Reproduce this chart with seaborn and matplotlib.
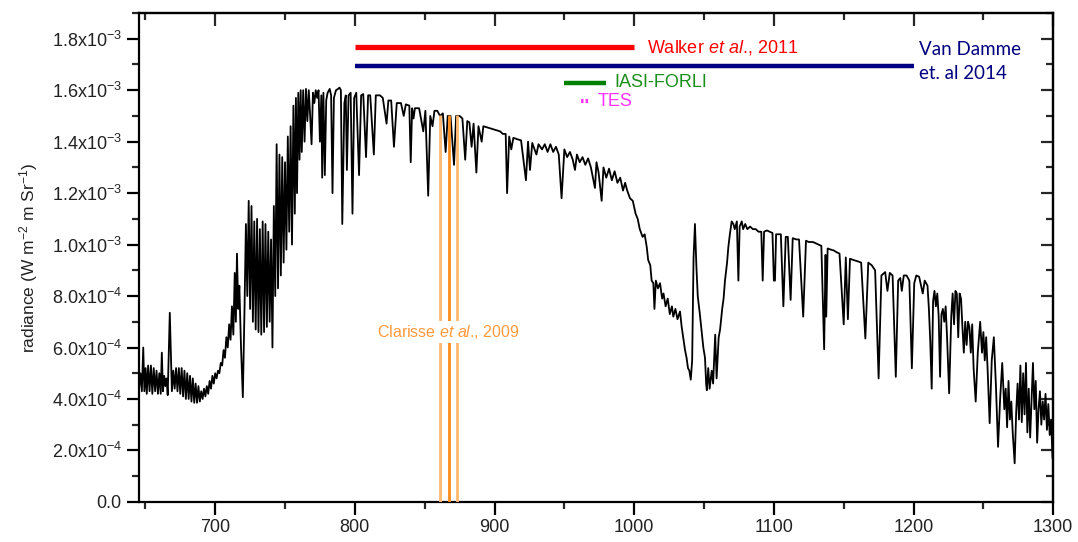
import matplotlib
matplotlib.use("Agg")
import numpy as np
import pandas as pd
import seaborn as sns
import matplotlib.pyplot as plt
from matplotlib.ticker import MultipleLocator

# spectrum: wavenumber (cm-1) and radiance (x1e-4 W m-2 m Sr-1)
wavenumber = [
    645.5, 646.5, 647.5, 648.5, 649.3, 650.2, 651, 652, 653, 654, 655, 656, 657, 658, 659, 660,
    661, 661.8, 662.6, 663.5, 664.3, 665.2, 666, 667.5, 669, 670, 671, 672, 673, 674, 675, 676,
    677, 678, 679, 680, 681, 682, 683, 684, 685, 686, 687, 688, 689, 690, 691, 692, 693, 694,
    695, 696, 697, 698, 699, 700, 701, 702, 703, 704, 705, 706, 707, 708, 709, 710, 711, 712,
    713, 714, 714.8, 715.6, 716.5, 717.3, 718.5, 719.8, 721, 722, 723, 724, 725, 726, 727, 728,
    729, 730, 731, 732, 733, 734, 735, 736, 737, 738, 739, 740, 741, 742, 743, 744, 745, 746,
    747, 748, 749, 750, 751, 752, 753, 754, 755, 756, 757, 757.8, 758.6, 759.5, 760.4, 761.2,
    762, 763, 764, 765, 766, 767, 768, 769, 770, 771, 772, 773, 774, 775, 776, 776.6, 777.5,
    778.5, 779.5, 780.5, 782, 783, 784, 785, 786.5, 788, 789, 790, 791, 792.5, 793.5, 794.3,
    795.5, 797, 798.3, 799.5, 801, 803, 804.5, 806, 808, 809.5, 811, 813.6, 815, 818, 820,
    822.7, 824, 826, 828, 830, 833, 835, 836.5, 839, 840, 841, 842, 843, 846, 849, 850.5,
    852.5, 854, 855.6, 857, 859, 861, 863, 865, 866.5, 868.5, 871, 872.5, 875, 877, 879,
    880.5, 882, 883.6, 885, 887, 888.5, 890.8, 892, 895, 898, 901, 904, 906, 908, 909, 910.5,
    912, 913.5, 916, 919, 922.5, 924, 925.4, 927, 930, 931.5, 934, 936, 938, 940, 942, 944,
    946, 948, 950, 952, 954, 956, 957.6, 959, 961, 963, 965, 967, 969, 971.9, 973, 974.5,
    976.7, 978, 980, 982, 984, 986, 988, 990, 992, 993.5, 995, 997, 999, 1001, 1002.5, 1004,
    1006, 1007.5, 1009, 1010, 1011.5, 1012.5, 1013.7, 1014.5, 1015.5, 1017, 1018.5, 1020,
    1021, 1022.5, 1024, 1025.5, 1027, 1028, 1029.5, 1031, 1032.8, 1034, 1035.3, 1036.4,
    1037.5, 1038.5, 1039.5, 1040.5, 1041.5, 1042.5, 1043.5, 1044.5, 1045.5, 1047, 1048.5,
    1049.5, 1050.7, 1051.5, 1052, 1053, 1054, 1055.5, 1056.5, 1058, 1059, 1060.5, 1061.5,
    1063, 1064, 1065, 1066.5, 1067.4, 1068.5, 1069.8, 1071, 1072, 1073.5, 1074.6, 1075.5,
    1077, 1078, 1079.5, 1081, 1083, 1085, 1087, 1089, 1091, 1092, 1093, 1095, 1097, 1099,
    1100, 1100.8, 1101.6, 1103, 1105, 1106.8, 1108.5, 1110, 1112, 1113.5, 1116, 1118, 1121,
    1123, 1125, 1128, 1130, 1132, 1134, 1136, 1137, 1137.5, 1138.5, 1141, 1143, 1145, 1147,
    1150, 1151.5, 1153, 1154.5, 1157, 1160, 1162.5, 1165.5, 1167.6, 1170, 1172.5, 1175, 1177,
    1179.7, 1181.3, 1183, 1185, 1187.3, 1189, 1190.5, 1191.6, 1193, 1195, 1197, 1198.8,
    1200.5, 1202, 1204, 1206.6, 1208, 1210, 1211, 1212, 1213, 1214, 1215, 1216, 1217, 1218,
    1219, 1220, 1221, 1222, 1223, 1224, 1225.5, 1227, 1228, 1229, 1230, 1231, 1232, 1233,
    1234, 1235, 1236, 1237, 1238, 1239, 1240, 1241, 1242, 1243, 1244.5, 1246, 1247.7, 1249,
    1250, 1251, 1252, 1253, 1254.5, 1256, 1257.5, 1259, 1260.5, 1262, 1263.5, 1265, 1266,
    1267, 1268, 1269, 1270, 1271, 1272.4, 1273.5, 1274.5, 1275.5, 1276.5, 1277.5, 1278.5,
    1279.5, 1280.5, 1281.5, 1282.5, 1283.5, 1284.5, 1285.5, 1286.5, 1287.5, 1288.5, 1289.5,
    1290.5, 1291.5, 1292.5, 1293.5, 1294.5, 1295.5, 1296.5, 1297.5, 1298.5, 1299.5,
]
radiance_e4 = [
    4.4, 5.0, 4.3, 6.0, 4.3, 5.2, 4.2, 5.3, 4.3, 5.3, 4.2, 5.2, 4.3, 5.1, 4.2, 5.0,
    4.2, 5.8, 4.3, 4.9, 4.5, 4.8, 4.15, 7.35, 4.3, 5.1, 4.4, 5.2, 4.3, 5.2, 4.2, 5.2,
    4.1, 5.1, 4.0, 5.0, 4.0, 4.9, 3.9, 4.8, 3.85, 4.6, 3.85, 4.5, 3.9, 4.3, 4.0, 4.4, 4.1, 4.5,
    4.2, 4.7, 4.4, 4.9, 4.6, 5.0, 4.8, 5.1, 5.0, 5.4, 5.3, 5.9, 5.6, 6.4, 6.0, 6.9, 6.3, 7.6,
    6.5, 8.9, 7.0, 9.65, 7.5, 8.4, 6.0, 4.07, 7.5, 10.8, 8.0, 11.7, 7.5, 11.5, 7.0, 10.9,
    6.7, 11.0, 6.6, 10.6, 6.5, 10.9, 6.6, 10.8, 6.8, 10.5, 7.0, 10.2, 6.0, 11.5, 8.0, 13.9, 8.3, 13.5,
    8.8, 13.4, 9.3, 13.2, 9.8, 14.2, 10.5, 14.6, 10.0, 15.4, 11.2, 15.7, 12.0, 15.9, 13.3, 16.0,
    13.6, 16.0, 14.0, 16.05, 14.8, 16.0, 15.0, 13.9, 15.9, 15.5, 16.0, 15.7, 16.0, 14.0, 15.8, 12.6, 15.9,
    12.7, 15.6, 15.9, 16.05, 15.8, 12.0, 15.7, 16.0, 16.05, 16.1, 16.0, 10.8, 15.5, 15.8, 12.9,
    15.8, 15.9, 11.2, 15.7, 15.9, 12.7, 15.8, 15.85, 13.4, 15.8, 15.8, 13.5, 15.8, 15.8, 15.7,
    14.7, 15.6, 15.6, 13.8, 15.5, 15.5, 15.0, 15.45, 15.4, 13.2, 15.3, 14.9, 15.3, 15.3, 14.4, 15.2,
    11.9, 15.0, 14.6, 15.2, 15.2, 15.0, 15.1, 13.6, 15.0, 15.0, 13.1, 15.0, 15.0, 14.9, 13.3,
    14.8, 14.75, 13.8, 14.7, 12.8, 14.6, 14.0, 14.6, 14.55, 14.5, 14.45, 14.4, 14.3, 14.3, 12.0, 14.2,
    13.7, 14.15, 14.1, 14.05, 12.5, 14.0, 12.9, 13.95, 13.5, 13.9, 13.7, 13.9, 13.6, 13.9, 13.6, 13.8,
    13.5, 11.8, 13.7, 13.4, 13.6, 13.3, 12.9, 13.5, 13.2, 13.4, 13.1, 13.35, 13.0, 12.2, 13.2, 12.8,
    11.7, 13.0, 12.6, 12.95, 12.5, 12.85, 12.4, 12.6, 12.1, 12.4, 12.1, 11.8, 11.7, 11.2, 11.0, 10.6,
    10.3, 10.4, 9.9, 9.4, 9.2, 8.6, 8.5, 7.5, 8.6, 8.3, 8.5, 7.9,
    8.1, 7.6, 7.9, 7.3, 7.6, 7.2, 7.5, 7.1, 7.4, 6.8, 6.3, 5.9,
    5.6, 5.2, 5.1, 4.75, 5.5, 9.5, 10.8, 9.2, 8.0, 7.3, 6.5,
    6.0, 5.6, 4.6, 4.34, 5.2, 4.4, 5.1, 4.6, 6.5, 4.8, 6.4, 6.7,
    7.5, 7.9, 8.6, 9.3, 9.9, 10.4, 10.9, 10.8, 10.6, 10.9, 8.6, 10.7,
    10.9, 10.6, 10.8, 10.6, 10.7, 10.6, 10.6, 10.5, 10.5, 8.6, 10.5, 10.55, 10.5, 10.45,
    8.6, 8.6, 10.4, 10.4, 10.4, 7.6, 10.3, 10.3, 7.85, 10.25, 10.2, 10.2, 7.2,
    10.15, 10.1, 10.1, 10.05, 10.0, 9.95, 5.93, 9.6, 7.2, 9.85, 9.8, 9.77, 9.7, 9.65,
    6.9, 9.5, 7.1, 9.45, 9.4, 9.35, 9.3, 6.35, 9.3, 9.2, 9.0, 4.8, 8.8,
    8.93, 8.2, 8.9, 8.8, 4.86, 8.6, 8.7, 8.2, 8.8, 8.8, 8.6, 5.19,
    8.5, 8.8, 8.75, 8.1, 8.6, 8.4, 7.5, 6.2, 4.4, 7.8, 8.2, 7.6, 8.1, 7.2,
    4.86, 7.3, 7.5, 7.0, 7.6, 6.4, 4.22, 7.2, 8.1, 6.9, 8.2, 8.1, 6.4, 8.1,
    7.9, 6.8, 5.8, 7.0, 6.1, 7.0, 6.8, 5.8, 6.9, 5.2, 3.9, 5.8, 7.0, 5.8,
    6.6, 5.5, 6.4, 5.2, 3.06, 5.5, 6.4, 4.5, 2.14, 4.0, 5.4, 3.6, 4.4,
    2.9, 4.7, 3.2, 3.9, 2.7, 1.5, 3.5, 4.6, 3.2, 5.3, 3.1, 5.0,
    3.4, 5.4, 2.7, 4.4, 2.5, 4.0, 5.4, 3.6, 4.7, 2.3, 3.6,
    4.3, 3.0, 3.9, 3.2, 4.2, 2.8, 3.8, 2.6, 3.2, 1.7,
]

# retrieval windows (cm-1)
walker_range = [800, 1000]
vandamme_range = [800, 1200]
iasi_range = [950, 980]
tes_range = [962, 967.5]
clarisse_lines = [861, 867.5, 873]

ytick_values = [0, 2e-4, 4e-4, 6e-4, 8e-4, 1e-3, 1.2e-3, 1.4e-3, 1.6e-3, 1.8e-3]
ytick_labels = ["0.0", "2.0x10$^{-4}$", "4.0x10$^{-4}$", "6.0x10$^{-4}$", "8.0x10$^{-4}$",
                "1.0x10$^{-3}$", "1.2x10$^{-3}$", "1.4x10$^{-3}$", "1.6x10$^{-3}$", "1.8x10$^{-3}$"]

df = pd.DataFrame({"wavenumber": wavenumber, "radiance": np.array(radiance_e4) * 1e-4})

sns.set_theme(style="ticks")
plt.rcParams["font.family"] = ["Liberation Sans", "DejaVu Sans"]
plt.rcParams["mathtext.fontset"] = "custom"
plt.rcParams["mathtext.rm"] = "Liberation Sans"
plt.rcParams["mathtext.it"] = "Liberation Sans:italic"

fig = plt.figure(figsize=(10.78, 5.42), dpi=100)
ax = fig.add_axes([0.129, 0.074, 0.848, 0.902])

sns.lineplot(data=df, x="wavenumber", y="radiance", estimator=None, sort=False,
             color="black", linewidth=1.3, ax=ax)

# orange vertical lines (Clarisse et al.)
ax.vlines(clarisse_lines, 0, 1.505e-3, colors=["#ffb870", "#ff8a1c", "#ffb870"], linewidth=2.0, zorder=3)
ax.text(867, 6.6e-4, r"Clarisse $\mathit{et\ al}$., 2009", color="#ff9a3c",
        fontsize=11.5, ha="center", va="center", zorder=4,
        bbox=dict(facecolor="white", edgecolor="none", pad=1.5))

# horizontal bars
ax.plot(walker_range, [1.767e-3] * 2, color="#ff0000", linewidth=3.8, solid_capstyle="butt")
ax.text(1009, 1.767e-3, r"Walker $\mathit{et\ al}$., 2011", color="#ff0000",
        fontsize=13, va="center")

ax.plot(vandamme_range, [1.694e-3] * 2, color="#000080", linewidth=3.2, solid_capstyle="butt")
ax.text(1204, 1.71e-3, "Van Damme\net. al 2014", color="#000080", fontsize=13.5,
        family=["Lato", "DejaVu Sans"], va="center", linespacing=1.5)

ax.plot(iasi_range, [1.628e-3] * 2, color="#008000", linewidth=3.2, solid_capstyle="butt")
ax.text(985.5, 1.628e-3, "IASI-FORLI", color="#1a8f1a", fontsize=13, va="center")

ax.plot(tes_range, [1.558e-3] * 2, color="#ff33ff", linewidth=3.0, linestyle=(0, (0.6, 0.5)),
        dash_capstyle="butt")
ax.text(973.5, 1.558e-3, "TES", color="#ff33ff", fontsize=13, va="center")

ax.set_xlim(645.5, 1300)
ax.set_ylim(0, 1.9e-3)
ax.xaxis.set_major_locator(MultipleLocator(100))
ax.xaxis.set_minor_locator(MultipleLocator(50))
ax.set_yticks(ytick_values)
ax.set_yticklabels(ytick_labels)
ax.yaxis.set_minor_locator(MultipleLocator(1e-4))

ax.tick_params(axis="both", which="major", labelsize=13, length=9, width=1.6, color="black",
               direction="out", labelcolor="#222222", top=False, right=False)
ax.tick_params(axis="both", which="minor", length=5, width=1.6, direction="out",
               top=False, right=False)

for side in ["top", "right", "bottom", "left"]:
    ax.spines[side].set_linewidth(1.6)
    ax.spines[side].set_color("black")

ax.set_xlabel("")
ax.set_ylabel("radiance (W m$^{-2}$ m Sr$^{-1}$)", fontsize=12.5, color="#222222", labelpad=8)

# mirrored ticks on top and right, pointing inward
top = ax.secondary_xaxis("top")
top.xaxis.set_major_locator(MultipleLocator(100))
top.xaxis.set_minor_locator(MultipleLocator(50))
top.tick_params(axis="x", which="major", direction="in", length=9, width=1.6, labeltop=False)
top.tick_params(axis="x", which="minor", direction="in", length=5, width=1.6)
top.spines["top"].set_linewidth(1.6)

right = ax.secondary_yaxis("right")
right.yaxis.set_major_locator(MultipleLocator(2e-4))
right.yaxis.set_minor_locator(MultipleLocator(1e-4))
right.tick_params(axis="y", which="major", direction="in", length=9, width=1.6, labelright=False)
right.tick_params(axis="y", which="minor", direction="in", length=5, width=1.6)
right.spines["right"].set_linewidth(1.6)

fig.savefig("out.png", dpi=100)
